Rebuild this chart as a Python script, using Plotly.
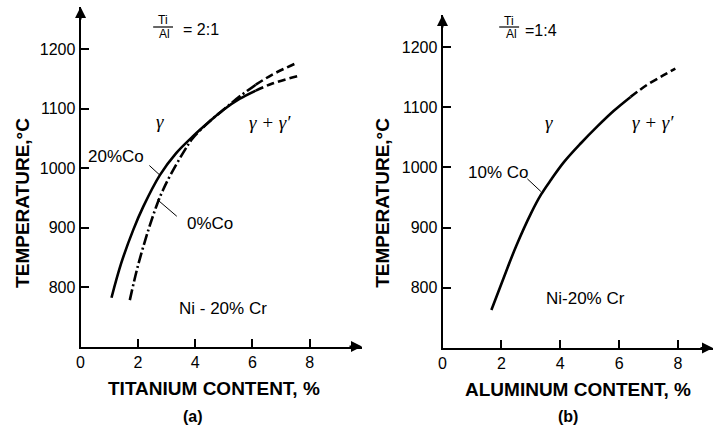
# Ni-20%Cr gamma / gamma+gamma' solvus curves, panels (a) Ti and (b) Al
import plotly.graph_objects as go

# panel (a): Ti/Al = 2:1
co20_ti = [1.08, 1.42, 1.84, 2.19, 2.77, 3.34, 3.92, 4.5, 4.97, 5.55, 6.12, 6.7, 7.63]
co20_temp = [782, 840, 896, 935, 988, 1025, 1053, 1078, 1097, 1116, 1130, 1142, 1155]
co0_ti = [1.72, 2.0, 2.35, 2.68, 2.88, 3.17, 3.64, 3.92, 4.5, 4.97, 5.55, 6.12, 6.7, 7.57]
co0_temp = [778, 835, 893, 940, 963, 991, 1030, 1050, 1078, 1097, 1120, 1140, 1157, 1177]

# panel (b): Ti/Al = 1:4
co10_al = [1.66, 2.05, 2.5, 3.01, 3.35, 3.68, 4.13, 4.7, 5.26, 5.82, 6.39, 6.95, 7.51, 7.91]
co10_temp = [763, 813, 869, 924, 955, 979, 1009, 1040, 1068, 1094, 1117, 1137, 1153, 1164]

x_ticks = [0, 2, 4, 6, 8]
y_ticks = [800, 900, 1000, 1100, 1200]

# index where each line turns dashed (uncertain part)
co20_split = 10
co0_split = 11
co10_split = 10

W, H = 714, 429
FONT = "Liberation Sans"
SERIF = "Liberation Serif"


def px(x):
    return x / W


def py(y):
    return 1 - y / H


fig = go.Figure()


def curve(x, y, dash, xa, ya):
    fig.add_trace(
        go.Scatter(
            x=x,
            y=y,
            mode="lines",
            line=dict(color="black", width=2.6, dash=dash, shape="spline", smoothing=1),
            xaxis=xa,
            yaxis=ya,
            hoverinfo="skip",
        )
    )


dashed = "8px,4px"
dashdot = "11px,3px,2px,3px"

curve(co0_ti[: co0_split + 1], co0_temp[: co0_split + 1], dashdot, "x", "y")
curve(co0_ti[co0_split:], co0_temp[co0_split:], dashed, "x", "y")
curve(co20_ti[: co20_split + 1], co20_temp[: co20_split + 1], "solid", "x", "y")
curve(co20_ti[co20_split:], co20_temp[co20_split:], dashed, "x", "y")
curve(co10_al[: co10_split + 1], co10_temp[: co10_split + 1], "solid", "x2", "y2")
curve(co10_al[co10_split:], co10_temp[co10_split:], dashed, "x2", "y2")

axis_common = dict(
    ticks="inside",
    ticklen=8,
    tickwidth=1.5,
    tickcolor="black",
    showline=True,
    linewidth=2,
    linecolor="black",
    showgrid=False,
    zeroline=False,
    tickfont=dict(family=FONT, size=16, color="black"),
)

fig.update_layout(
    width=W,
    height=H,
    margin=dict(l=0, r=0, t=0, b=0),
    plot_bgcolor="white",
    paper_bgcolor="white",
    showlegend=False,
    xaxis=dict(domain=[px(77), px(360)], range=[0, 9.83], anchor="y", tickvals=x_ticks, **axis_common),
    yaxis=dict(domain=[py(346.5), py(7)], range=[700, 1270.6], anchor="x", tickvals=y_ticks, **axis_common),
    xaxis2=dict(domain=[px(441), px(713)], range=[0, 9.19], anchor="y2", tickvals=x_ticks, **axis_common),
    yaxis2=dict(domain=[py(348), py(15)], range=[700, 1253], anchor="x2", tickvals=y_ticks, **axis_common),
)

ann = []


def txt(x, y, s, size=15, family=FONT, angle=0):
    ann.append(
        dict(
            x=px(x), y=py(y), xref="paper", yref="paper", text=s, showarrow=False,
            xanchor="center", yanchor="middle", textangle=angle,
            font=dict(family=family, size=size, color="black"),
        )
    )


def arrow(x, y, xa, ya, ax, ay):
    # axis arrow heads
    ann.append(
        dict(
            x=x, y=y, xref=xa, yref=ya, ax=ax, ay=ay, text="", showarrow=True,
            arrowhead=2, arrowsize=1.1, arrowwidth=2, arrowcolor="black",
        )
    )


def leader(x, y, xa, ya, ax, ay):
    ann.append(
        dict(
            x=x, y=y, xref=xa, yref=ya, ax=ax, ay=ay, text="", showarrow=True,
            arrowhead=0, arrowwidth=1, arrowcolor="black",
        )
    )


arrow(9.83, 700, "x", "y", -14, 0)
arrow(0, 1270.6, "x", "y", 0, 14)
arrow(9.19, 700, "x2", "y2", -14, 0)
arrow(0, 1253, "x2", "y2", 0, 14)

# panel (a) labels
txt(18, 203, "<b>TEMPERATURE,°C</b>", 19, angle=-90)
txt(211, 388, "<b>TITANIUM CONTENT, %</b>", 19)
txt(190, 416, "<b>(a)</b>", 16)
txt(160, 20, "Ti", 12)
txt(161, 34, "Al", 12)
txt(198, 30, "= 2:1", 16)
txt(157, 122, "<i>γ</i>", 19, SERIF)
txt(267, 123, "<i>γ + γ′</i>", 19, SERIF)
txt(113, 157, "20%Co", 17)
txt(207, 223, "0%Co", 17)
txt(220, 308, "Ni - 20% Cr", 17)
leader(2.77, 988, "x", "y", -12, -11)
leader(2.68, 947, "x", "y", 21, 18)

# panel (b) labels
txt(380, 203, "<b>TEMPERATURE,°C</b>", 19, angle=-90)
txt(577, 389, "<b>ALUMINUM CONTENT, %</b>", 19)
txt(567, 416, "<b>(b)</b>", 16)
txt(508, 21, "Ti", 12)
txt(510, 34, "Al", 12)
txt(540, 31, "=1:4", 16)
txt(548, 123, "<i>γ</i>", 19, SERIF)
txt(653, 123, "<i>γ + γ′</i>", 19, SERIF)
txt(497, 172, "10% Co", 17)
txt(585, 298, "Ni-20% Cr", 17)
leader(3.34, 960, "x2", "y2", -15, -14)

fig.update_layout(
    annotations=ann,
    shapes=[
        dict(type="line", xref="paper", yref="paper", x0=px(150), x1=px(170), y0=py(27), y1=py(27),
             line=dict(color="black", width=1.2)),
        dict(type="line", xref="paper", yref="paper", x0=px(498), x1=px(518), y0=py(27), y1=py(27),
             line=dict(color="black", width=1.2)),
    ],
)

# page body has a default 8px margin; drop it so the figure sits at the corner
fig.write_html(
    "out.html",
    config={"displayModeBar": False},
    post_script="document.body.style.margin='0';",
)
